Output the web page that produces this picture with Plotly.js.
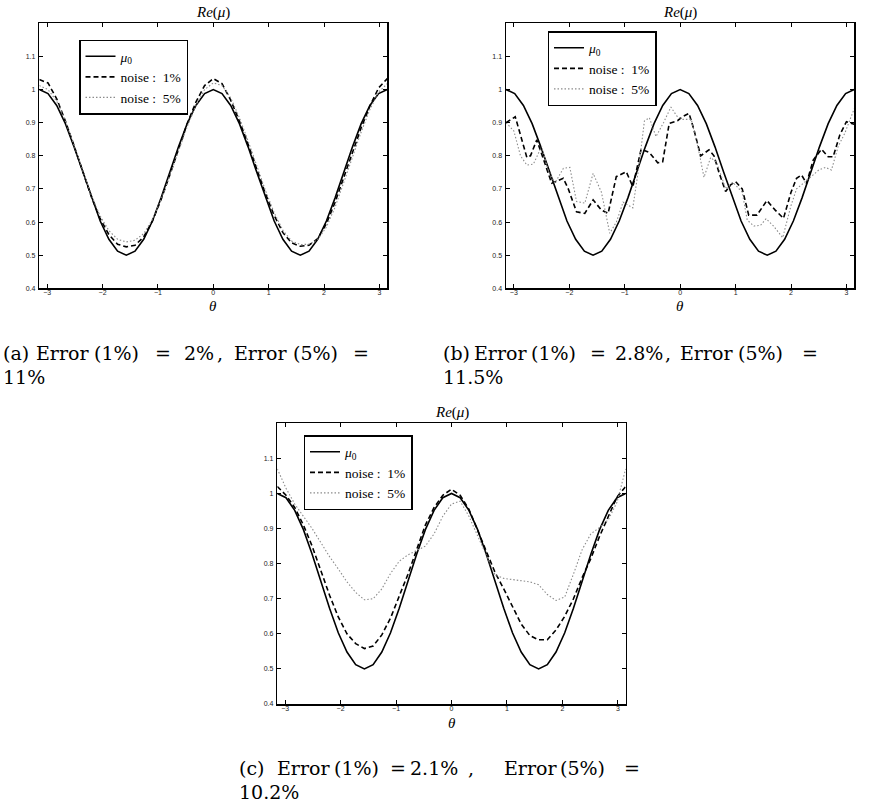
<!DOCTYPE html>
<html><head><meta charset="utf-8">
<script src="https://cdn.plot.ly/plotly-3.0.1.min.js"></script>
<style>html,body{margin:0;padding:0;background:#fff}</style>
</head><body><div id="chart" style="width:873px;height:807px"></div>
<script>
// ---- data ----
const theta = [-3.1416,-2.9845,-2.8274,-2.6704,-2.5133,-2.3562,-2.1991,-2.0420,-1.8850,-1.7279,-1.5708,-1.4137,-1.2566,-1.0996,-0.9425,-0.7854,-0.6283,-0.4712,-0.3142,-0.1571,0,0.1571,0.3142,0.4712,0.6283,0.7854,0.9425,1.0996,1.2566,1.4137,1.5708,1.7279,1.8850,2.0420,2.1991,2.3562,2.5133,2.6704,2.8274,2.9845,3.1416];
const mu0 = [1.000,0.988,0.952,0.897,0.827,0.750,0.673,0.603,0.548,0.512,0.500,0.512,0.548,0.603,0.673,0.750,0.827,0.897,0.952,0.988,1.000,0.988,0.952,0.897,0.827,0.750,0.673,0.603,0.548,0.512,0.500,0.512,0.548,0.603,0.673,0.750,0.827,0.897,0.952,0.988,1.000];

// panel (a)
const aNoise1 = [1.030,1.020,0.972,0.905,0.830,0.752,0.675,0.610,0.562,0.533,0.525,0.530,0.555,0.603,0.668,0.742,0.822,0.897,0.962,1.012,1.033,1.018,0.968,0.905,0.835,0.760,0.685,0.620,0.568,0.537,0.527,0.530,0.550,0.595,0.660,0.735,0.812,0.885,0.950,1.005,1.033];
const aNoise5 = [1.012,1.000,0.965,0.905,0.832,0.755,0.680,0.618,0.574,0.548,0.540,0.545,0.565,0.608,0.668,0.740,0.815,0.888,0.952,1.000,1.020,1.012,0.975,0.915,0.845,0.770,0.695,0.628,0.575,0.543,0.532,0.533,0.547,0.585,0.645,0.720,0.798,0.872,0.940,0.992,1.018];

// panel (b)
const bTheta1 = [-3.14,-2.975,-2.765,-2.70,-2.586,-2.317,-2.20,-2.108,-2.018,-1.869,-1.72,-1.57,-1.42,-1.30,-1.152,-0.973,-0.853,-0.704,-0.555,-0.405,-0.315,-0.197,-0.047,0.043,0.161,0.25,0.37,0.52,0.61,0.70,0.82,0.91,1.0,1.12,1.237,1.386,1.566,1.715,1.864,2.0,2.10,2.19,2.28,2.40,2.55,2.67,2.76,2.88,3.0,3.14];
const bNoise1 = [0.900,0.918,0.795,0.800,0.848,0.717,0.725,0.732,0.700,0.631,0.626,0.667,0.636,0.626,0.737,0.752,0.707,0.820,0.810,0.779,0.782,0.898,0.906,0.918,0.928,0.878,0.800,0.818,0.800,0.750,0.692,0.712,0.722,0.700,0.621,0.621,0.665,0.636,0.611,0.690,0.732,0.742,0.717,0.787,0.820,0.797,0.797,0.863,0.903,0.895];
const bTheta5 = [-3.14,-3.0,-2.88,-2.766,-2.647,-2.50,-2.38,-2.26,-2.108,-1.99,-1.869,-1.72,-1.57,-1.42,-1.27,-1.15,-1.03,-0.854,-0.75,-0.645,-0.556,-0.436,-0.30,-0.167,-0.06,0.05,0.20,0.33,0.43,0.55,0.66,0.82,0.95,1.12,1.21,1.33,1.45,1.55,1.685,1.85,2.0,2.10,2.28,2.40,2.50,2.62,2.73,2.85,2.97,3.14];
const bNoise5 = [0.900,0.875,0.800,0.772,0.775,0.828,0.757,0.717,0.762,0.765,0.662,0.657,0.747,0.690,0.566,0.600,0.660,0.643,0.760,0.905,0.915,0.858,0.900,0.947,0.920,0.910,0.910,0.820,0.735,0.795,0.780,0.700,0.720,0.690,0.606,0.588,0.590,0.610,0.588,0.553,0.650,0.700,0.725,0.742,0.757,0.765,0.757,0.828,0.868,0.942];

// panel (c)
const cNoise1 = [1.020,0.995,0.960,0.910,0.850,0.780,0.710,0.648,0.600,0.572,0.558,0.565,0.597,0.645,0.705,0.770,0.840,0.910,0.960,0.995,1.012,0.995,0.955,0.895,0.830,0.775,0.728,0.678,0.628,0.595,0.583,0.583,0.611,0.650,0.700,0.760,0.815,0.878,0.935,0.990,1.020];
const cNoise5 = [1.070,1.015,0.970,0.935,0.900,0.860,0.820,0.785,0.748,0.718,0.697,0.700,0.728,0.772,0.807,0.825,0.838,0.850,0.885,0.935,0.970,0.978,0.935,0.880,0.820,0.768,0.758,0.754,0.751,0.748,0.740,0.712,0.695,0.705,0.770,0.840,0.885,0.903,0.925,0.975,1.070];

const xTicks = [-3,-2,-1,0,1,2,3];
const yTicks = [0.4,0.5,0.6,0.7,0.8,0.9,1.0,1.1];
const yTickText = ['0.4','0.5','0.6','0.7','0.8','0.9','1','1.1'];
const seriesNames = ['<i>μ</i><sub>0</sub>','noise :\u00a0\u00a01%','noise :\u00a0\u00a05%'];
const titleText = '<i>Re</i>(<i>μ</i>)';
const captionWords = [
  ['(a)','Error','(1%)','=','2%',',','Error','(5%)','='],
  ['(b)','Error','(1%)','=','2.8%',',','Error','(5%)','='],
  ['(c)','Error','(1%)','=','2.1%',',','Error','(5%)','=']
];
const captionLine2 = ['11%','11.5%','10.2%'];

// ---- layout geometry (pixels) ----
const W = 873, H = 807;
const px = v => v / W, py = v => 1 - v / H;
const panels = [
  {x0:39.3, x1:387.3, y0:23.3, y1:288.3, leg:[79,39.5], tY:12, thY:306,
   capX:[1,34,92,153,182,215,232,291,351], capY:[353,377]},
  {x0:506,  x1:854.3, y0:23.3, y1:288.3, leg:[547.5,31], tY:12, thY:306,
   capX:[441,472,529,588,613,663,678,736,800], capY:[353,377]},
  {x0:277.3,x1:625.7, y0:423.3,y1:704,   leg:[303.5,435], tY:412, thY:723,
   capX:[237,275,332,388,408,466,502,558,622], capY:[768,792]}
];
const panelData = [
  [[theta,mu0],[theta,aNoise1],[theta,aNoise5]],
  [[theta,mu0],[bTheta1,bNoise1],[bTheta5,bNoise5]],
  [[theta,mu0],[theta,cNoise1],[theta,cNoise5]]
];
const styles = [
  {color:'#000', width:1.6, dash:'solid'},
  {color:'#000', width:1.6, dash:'5px,3px'},
  {color:'#8c8c8c', width:1.1, dash:'1.5px,2px'}
];

const traces = [];
const layout = {
  width:W, height:H, margin:{l:0,r:0,t:0,b:0},
  paper_bgcolor:'#fff', plot_bgcolor:'#fff', showlegend:true,
  annotations:[]
};
const serif = 'Liberation Serif';
const capFont = {family:'DejaVu Serif', size:19, color:'#000'};
panels.forEach((p,i) => {
  const s = i === 0 ? '' : String(i+1);
  panelData[i].forEach((d,j) => {
    traces.push({
      x:d[0], y:d[1], type:'scatter', mode:'lines', name:seriesNames[j],
      xaxis:'x'+s, yaxis:'y'+s, legend:'legend'+s,
      line:styles[j], hoverinfo:'skip'
    });
  });
  const axCommon = {showline:true, linecolor:'#000', linewidth:1.5, mirror:'ticks',
    ticks:'inside', ticklen:4, tickwidth:1, tickcolor:'#000', showgrid:false, zeroline:false,
    tickfont:{family:'Liberation Sans', size:7, color:'#222'}, fixedrange:true};
  layout['xaxis'+s] = Object.assign({}, axCommon, {domain:[px(p.x0),px(p.x1)], range:[theta[0],theta[theta.length-1]],
    anchor:'y'+s, tickvals:xTicks, ticklabelstandoff:-3});
  layout['yaxis'+s] = Object.assign({}, axCommon, {domain:[py(p.y1),py(p.y0)], range:[0.4,1.2],
    anchor:'x'+s, tickvals:yTicks, ticktext:yTickText, ticklabelstandoff:1});
  layout['legend'+s] = {x:px(p.leg[0]), y:py(p.leg[1]), xanchor:'left', yanchor:'top', xref:'paper', yref:'paper',
    bordercolor:'#000', borderwidth:1.5, bgcolor:'#fff', itemwidth:30, tracegroupgap:0,
    font:{family:serif, size:13.5, color:'#000'}};
  const cx = px((p.x0+p.x1)/2);
  layout.annotations.push({text:titleText, x:cx, y:py(p.tY), xref:'paper', yref:'paper', showarrow:false,
    xanchor:'center', yanchor:'middle', font:{family:serif, size:15, color:'#000'}});
  layout.annotations.push({text:'<i>θ</i>', x:cx, y:py(p.thY), xref:'paper', yref:'paper', showarrow:false,
    xanchor:'center', yanchor:'middle', font:{family:serif, size:15, color:'#000'}});
  captionWords[i].forEach((w,k) => layout.annotations.push({text:w, x:px(p.capX[k]), y:py(p.capY[0]), xref:'paper', yref:'paper',
    showarrow:false, xanchor:'left', yanchor:'middle', font:capFont}));
  layout.annotations.push({text:captionLine2[i], x:px(p.capX[0]), y:py(p.capY[1]), xref:'paper', yref:'paper',
    showarrow:false, xanchor:'left', yanchor:'middle', font:capFont});
});

Plotly.newPlot('chart', traces, layout, {displayModeBar:false, staticPlot:true});
</script>
</body></html>
